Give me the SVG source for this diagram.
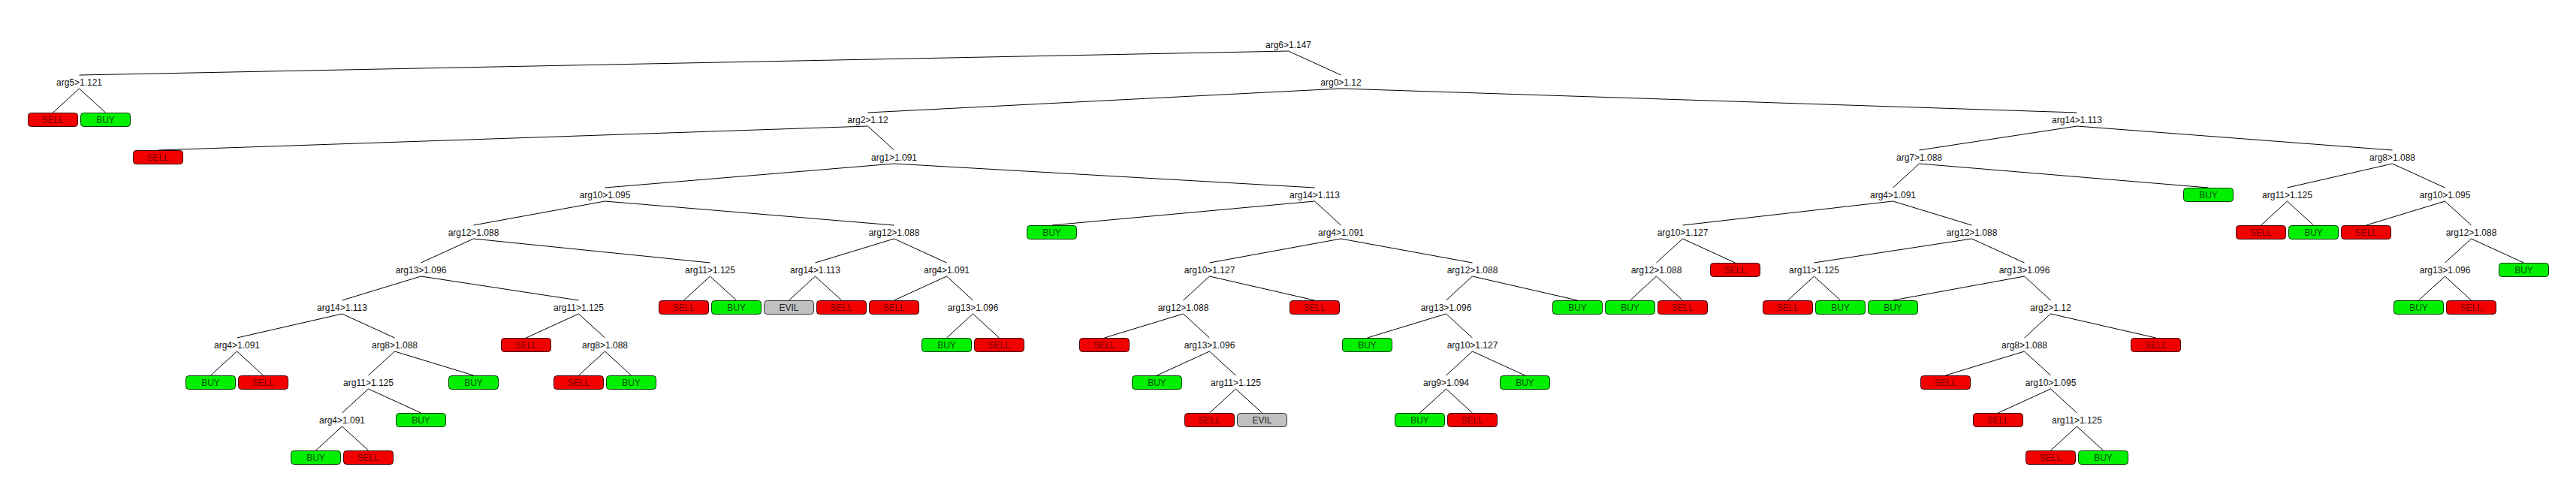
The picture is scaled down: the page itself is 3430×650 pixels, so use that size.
<svg xmlns="http://www.w3.org/2000/svg" width="3430" height="650" viewBox="0 0 3430 650">
<style>
text{font-family:"Liberation Sans",Arial,sans-serif;font-size:12px;text-anchor:middle}
.lab{fill:#111}
.c line{stroke:#000;stroke-width:1;fill:none}
.sell rect{fill:#f20000;stroke:#3a0000;stroke-width:1}
.buy rect{fill:#00f000;stroke:#003a00;stroke-width:1}
.evil rect{fill:#c0c0c0;stroke:#333;stroke-width:1}
.sell text{fill:#7a0000}
.buy text{fill:#005000}
.evil text{fill:#222}
</style>
<rect x="0" y="0" width="3430" height="650" fill="#fff"/>
<g id="connectors" class="c">
<line x1="1715.5" y1="68" x2="105.5" y2="100"/><line x1="1715.5" y1="68" x2="1785.5" y2="100"/>
<line x1="105.5" y1="118" x2="70.5" y2="150"/><line x1="105.5" y1="118" x2="140.5" y2="150"/><line x1="1785.5" y1="118" x2="1155.5" y2="150"/><line x1="1785.5" y1="118" x2="2765.5" y2="150"/>
<line x1="1155.5" y1="168" x2="210.5" y2="200"/><line x1="1155.5" y1="168" x2="1190.5" y2="200"/><line x1="2765.5" y1="168" x2="2555.5" y2="200"/><line x1="2765.5" y1="168" x2="3185.5" y2="200"/>
<line x1="1190.5" y1="218" x2="805.5" y2="250"/><line x1="1190.5" y1="218" x2="1750.5" y2="250"/><line x1="2555.5" y1="218" x2="2520.5" y2="250"/><line x1="2555.5" y1="218" x2="2940.5" y2="250"/><line x1="3185.5" y1="218" x2="3045.5" y2="250"/><line x1="3185.5" y1="218" x2="3255.5" y2="250"/>
<line x1="805.5" y1="268" x2="630.5" y2="300"/><line x1="805.5" y1="268" x2="1190.5" y2="300"/><line x1="1750.5" y1="268" x2="1400.5" y2="300"/><line x1="1750.5" y1="268" x2="1785.5" y2="300"/><line x1="2520.5" y1="268" x2="2240.5" y2="300"/><line x1="2520.5" y1="268" x2="2625.5" y2="300"/><line x1="3045.5" y1="268" x2="3010.5" y2="300"/><line x1="3045.5" y1="268" x2="3080.5" y2="300"/><line x1="3255.5" y1="268" x2="3150.5" y2="300"/><line x1="3255.5" y1="268" x2="3290.5" y2="300"/>
<line x1="630.5" y1="318" x2="560.5" y2="350"/><line x1="630.5" y1="318" x2="945.5" y2="350"/><line x1="1190.5" y1="318" x2="1085.5" y2="350"/><line x1="1190.5" y1="318" x2="1260.5" y2="350"/><line x1="1785.5" y1="318" x2="1610.5" y2="350"/><line x1="1785.5" y1="318" x2="1960.5" y2="350"/><line x1="2240.5" y1="318" x2="2205.5" y2="350"/><line x1="2240.5" y1="318" x2="2310.5" y2="350"/><line x1="2625.5" y1="318" x2="2415.5" y2="350"/><line x1="2625.5" y1="318" x2="2695.5" y2="350"/><line x1="3290.5" y1="318" x2="3255.5" y2="350"/><line x1="3290.5" y1="318" x2="3360.5" y2="350"/>
<line x1="560.5" y1="368" x2="455.5" y2="400"/><line x1="560.5" y1="368" x2="770.5" y2="400"/><line x1="945.5" y1="368" x2="910.5" y2="400"/><line x1="945.5" y1="368" x2="980.5" y2="400"/><line x1="1085.5" y1="368" x2="1050.5" y2="400"/><line x1="1085.5" y1="368" x2="1120.5" y2="400"/><line x1="1260.5" y1="368" x2="1190.5" y2="400"/><line x1="1260.5" y1="368" x2="1295.5" y2="400"/><line x1="1610.5" y1="368" x2="1575.5" y2="400"/><line x1="1610.5" y1="368" x2="1750.5" y2="400"/><line x1="1960.5" y1="368" x2="1925.5" y2="400"/><line x1="1960.5" y1="368" x2="2100.5" y2="400"/><line x1="2205.5" y1="368" x2="2170.5" y2="400"/><line x1="2205.5" y1="368" x2="2240.5" y2="400"/><line x1="2415.5" y1="368" x2="2380.5" y2="400"/><line x1="2415.5" y1="368" x2="2450.5" y2="400"/><line x1="2695.5" y1="368" x2="2520.5" y2="400"/><line x1="2695.5" y1="368" x2="2730.5" y2="400"/><line x1="3255.5" y1="368" x2="3220.5" y2="400"/><line x1="3255.5" y1="368" x2="3290.5" y2="400"/>
<line x1="455.5" y1="418" x2="315.5" y2="450"/><line x1="455.5" y1="418" x2="525.5" y2="450"/><line x1="770.5" y1="418" x2="700.5" y2="450"/><line x1="770.5" y1="418" x2="805.5" y2="450"/><line x1="1295.5" y1="418" x2="1260.5" y2="450"/><line x1="1295.5" y1="418" x2="1330.5" y2="450"/><line x1="1575.5" y1="418" x2="1470.5" y2="450"/><line x1="1575.5" y1="418" x2="1610.5" y2="450"/><line x1="1925.5" y1="418" x2="1820.5" y2="450"/><line x1="1925.5" y1="418" x2="1960.5" y2="450"/><line x1="2730.5" y1="418" x2="2695.5" y2="450"/><line x1="2730.5" y1="418" x2="2870.5" y2="450"/>
<line x1="315.5" y1="468" x2="280.5" y2="500"/><line x1="315.5" y1="468" x2="350.5" y2="500"/><line x1="525.5" y1="468" x2="490.5" y2="500"/><line x1="525.5" y1="468" x2="630.5" y2="500"/><line x1="805.5" y1="468" x2="770.5" y2="500"/><line x1="805.5" y1="468" x2="840.5" y2="500"/><line x1="1610.5" y1="468" x2="1540.5" y2="500"/><line x1="1610.5" y1="468" x2="1645.5" y2="500"/><line x1="1960.5" y1="468" x2="1925.5" y2="500"/><line x1="1960.5" y1="468" x2="2030.5" y2="500"/><line x1="2695.5" y1="468" x2="2590.5" y2="500"/><line x1="2695.5" y1="468" x2="2730.5" y2="500"/>
<line x1="490.5" y1="518" x2="455.5" y2="550"/><line x1="490.5" y1="518" x2="560.5" y2="550"/><line x1="1645.5" y1="518" x2="1610.5" y2="550"/><line x1="1645.5" y1="518" x2="1680.5" y2="550"/><line x1="1925.5" y1="518" x2="1890.5" y2="550"/><line x1="1925.5" y1="518" x2="1960.5" y2="550"/><line x1="2730.5" y1="518" x2="2660.5" y2="550"/><line x1="2730.5" y1="518" x2="2765.5" y2="550"/>
<line x1="455.5" y1="568" x2="420.5" y2="600"/><line x1="455.5" y1="568" x2="490.5" y2="600"/><line x1="2765.5" y1="568" x2="2730.5" y2="600"/><line x1="2765.5" y1="568" x2="2800.5" y2="600"/>
</g>
<g id="n0"><text class="lab" x="1715.5" y="64">arg6&gt;1.147</text></g>
<g id="n1"><text class="lab" x="105.5" y="114">arg5&gt;1.121</text></g>
<g id="n2"><text class="lab" x="1785.5" y="114">arg0&gt;1.12</text></g>
<g id="n3"><text class="lab" x="1155.5" y="164">arg2&gt;1.12</text></g>
<g id="n4"><text class="lab" x="1190.5" y="214">arg1&gt;1.091</text></g>
<g id="n5"><text class="lab" x="805.5" y="264">arg10&gt;1.095</text></g>
<g id="n6"><text class="lab" x="630.5" y="314">arg12&gt;1.088</text></g>
<g id="n7"><text class="lab" x="560.5" y="364">arg13&gt;1.096</text></g>
<g id="n8"><text class="lab" x="455.5" y="414">arg14&gt;1.113</text></g>
<g id="n9"><text class="lab" x="315.5" y="464">arg4&gt;1.091</text></g>
<g id="n10"><text class="lab" x="525.5" y="464">arg8&gt;1.088</text></g>
<g id="n11"><text class="lab" x="490.5" y="514">arg11&gt;1.125</text></g>
<g id="n12"><text class="lab" x="455.5" y="564">arg4&gt;1.091</text></g>
<g id="n13"><text class="lab" x="770.5" y="414">arg11&gt;1.125</text></g>
<g id="n14"><text class="lab" x="805.5" y="464">arg8&gt;1.088</text></g>
<g id="n15"><text class="lab" x="945.5" y="364">arg11&gt;1.125</text></g>
<g id="n16"><text class="lab" x="1190.5" y="314">arg12&gt;1.088</text></g>
<g id="n17"><text class="lab" x="1085.5" y="364">arg14&gt;1.113</text></g>
<g id="n18"><text class="lab" x="1260.5" y="364">arg4&gt;1.091</text></g>
<g id="n19"><text class="lab" x="1295.5" y="414">arg13&gt;1.096</text></g>
<g id="n20"><text class="lab" x="1750.5" y="264">arg14&gt;1.113</text></g>
<g id="n21"><text class="lab" x="1785.5" y="314">arg4&gt;1.091</text></g>
<g id="n22"><text class="lab" x="1610.5" y="364">arg10&gt;1.127</text></g>
<g id="n23"><text class="lab" x="1575.5" y="414">arg12&gt;1.088</text></g>
<g id="n24"><text class="lab" x="1610.5" y="464">arg13&gt;1.096</text></g>
<g id="n25"><text class="lab" x="1645.5" y="514">arg11&gt;1.125</text></g>
<g id="n26"><text class="lab" x="1960.5" y="364">arg12&gt;1.088</text></g>
<g id="n27"><text class="lab" x="1925.5" y="414">arg13&gt;1.096</text></g>
<g id="n28"><text class="lab" x="1960.5" y="464">arg10&gt;1.127</text></g>
<g id="n29"><text class="lab" x="1925.5" y="514">arg9&gt;1.094</text></g>
<g id="n30"><text class="lab" x="2765.5" y="164">arg14&gt;1.113</text></g>
<g id="n31"><text class="lab" x="2555.5" y="214">arg7&gt;1.088</text></g>
<g id="n32"><text class="lab" x="2520.5" y="264">arg4&gt;1.091</text></g>
<g id="n33"><text class="lab" x="2240.5" y="314">arg10&gt;1.127</text></g>
<g id="n34"><text class="lab" x="2205.5" y="364">arg12&gt;1.088</text></g>
<g id="n35"><text class="lab" x="2625.5" y="314">arg12&gt;1.088</text></g>
<g id="n36"><text class="lab" x="2415.5" y="364">arg11&gt;1.125</text></g>
<g id="n37"><text class="lab" x="2695.5" y="364">arg13&gt;1.096</text></g>
<g id="n38"><text class="lab" x="2730.5" y="414">arg2&gt;1.12</text></g>
<g id="n39"><text class="lab" x="2695.5" y="464">arg8&gt;1.088</text></g>
<g id="n40"><text class="lab" x="2730.5" y="514">arg10&gt;1.095</text></g>
<g id="n41"><text class="lab" x="2765.5" y="564">arg11&gt;1.125</text></g>
<g id="n42"><text class="lab" x="3185.5" y="214">arg8&gt;1.088</text></g>
<g id="n43"><text class="lab" x="3045.5" y="264">arg11&gt;1.125</text></g>
<g id="n44"><text class="lab" x="3255.5" y="264">arg10&gt;1.095</text></g>
<g id="n45"><text class="lab" x="3290.5" y="314">arg12&gt;1.088</text></g>
<g id="n46"><text class="lab" x="3255.5" y="364">arg13&gt;1.096</text></g>
<g id="l1" class="sell"><rect x="37.5" y="150.5" width="66" height="18" rx="4"/><text x="70.5" y="164">SELL</text></g>
<g id="l2" class="buy"><rect x="107.5" y="150.5" width="66" height="18" rx="4"/><text x="140.5" y="164">BUY</text></g>
<g id="l3" class="sell"><rect x="177.5" y="200.5" width="66" height="18" rx="4"/><text x="210.5" y="214">SELL</text></g>
<g id="l4" class="buy"><rect x="247.5" y="500.5" width="66" height="18" rx="4"/><text x="280.5" y="514">BUY</text></g>
<g id="l5" class="sell"><rect x="317.5" y="500.5" width="66" height="18" rx="4"/><text x="350.5" y="514">SELL</text></g>
<g id="l6" class="buy"><rect x="387.5" y="600.5" width="66" height="18" rx="4"/><text x="420.5" y="614">BUY</text></g>
<g id="l7" class="sell"><rect x="457.5" y="600.5" width="66" height="18" rx="4"/><text x="490.5" y="614">SELL</text></g>
<g id="l8" class="buy"><rect x="527.5" y="550.5" width="66" height="18" rx="4"/><text x="560.5" y="564">BUY</text></g>
<g id="l9" class="buy"><rect x="597.5" y="500.5" width="66" height="18" rx="4"/><text x="630.5" y="514">BUY</text></g>
<g id="l10" class="sell"><rect x="667.5" y="450.5" width="66" height="18" rx="4"/><text x="700.5" y="464">SELL</text></g>
<g id="l11" class="sell"><rect x="737.5" y="500.5" width="66" height="18" rx="4"/><text x="770.5" y="514">SELL</text></g>
<g id="l12" class="buy"><rect x="807.5" y="500.5" width="66" height="18" rx="4"/><text x="840.5" y="514">BUY</text></g>
<g id="l13" class="sell"><rect x="877.5" y="400.5" width="66" height="18" rx="4"/><text x="910.5" y="414">SELL</text></g>
<g id="l14" class="buy"><rect x="947.5" y="400.5" width="66" height="18" rx="4"/><text x="980.5" y="414">BUY</text></g>
<g id="l15" class="evil"><rect x="1017.5" y="400.5" width="66" height="18" rx="4"/><text x="1050.5" y="414">EVIL</text></g>
<g id="l16" class="sell"><rect x="1087.5" y="400.5" width="66" height="18" rx="4"/><text x="1120.5" y="414">SELL</text></g>
<g id="l17" class="sell"><rect x="1157.5" y="400.5" width="66" height="18" rx="4"/><text x="1190.5" y="414">SELL</text></g>
<g id="l18" class="buy"><rect x="1227.5" y="450.5" width="66" height="18" rx="4"/><text x="1260.5" y="464">BUY</text></g>
<g id="l19" class="sell"><rect x="1297.5" y="450.5" width="66" height="18" rx="4"/><text x="1330.5" y="464">SELL</text></g>
<g id="l20" class="buy"><rect x="1367.5" y="300.5" width="66" height="18" rx="4"/><text x="1400.5" y="314">BUY</text></g>
<g id="l21" class="sell"><rect x="1437.5" y="450.5" width="66" height="18" rx="4"/><text x="1470.5" y="464">SELL</text></g>
<g id="l22" class="buy"><rect x="1507.5" y="500.5" width="66" height="18" rx="4"/><text x="1540.5" y="514">BUY</text></g>
<g id="l23" class="sell"><rect x="1577.5" y="550.5" width="66" height="18" rx="4"/><text x="1610.5" y="564">SELL</text></g>
<g id="l24" class="evil"><rect x="1647.5" y="550.5" width="66" height="18" rx="4"/><text x="1680.5" y="564">EVIL</text></g>
<g id="l25" class="sell"><rect x="1717.5" y="400.5" width="66" height="18" rx="4"/><text x="1750.5" y="414">SELL</text></g>
<g id="l26" class="buy"><rect x="1787.5" y="450.5" width="66" height="18" rx="4"/><text x="1820.5" y="464">BUY</text></g>
<g id="l27" class="buy"><rect x="1857.5" y="550.5" width="66" height="18" rx="4"/><text x="1890.5" y="564">BUY</text></g>
<g id="l28" class="sell"><rect x="1927.5" y="550.5" width="66" height="18" rx="4"/><text x="1960.5" y="564">SELL</text></g>
<g id="l29" class="buy"><rect x="1997.5" y="500.5" width="66" height="18" rx="4"/><text x="2030.5" y="514">BUY</text></g>
<g id="l30" class="buy"><rect x="2067.5" y="400.5" width="66" height="18" rx="4"/><text x="2100.5" y="414">BUY</text></g>
<g id="l31" class="buy"><rect x="2137.5" y="400.5" width="66" height="18" rx="4"/><text x="2170.5" y="414">BUY</text></g>
<g id="l32" class="sell"><rect x="2207.5" y="400.5" width="66" height="18" rx="4"/><text x="2240.5" y="414">SELL</text></g>
<g id="l33" class="sell"><rect x="2277.5" y="350.5" width="66" height="18" rx="4"/><text x="2310.5" y="364">SELL</text></g>
<g id="l34" class="sell"><rect x="2347.5" y="400.5" width="66" height="18" rx="4"/><text x="2380.5" y="414">SELL</text></g>
<g id="l35" class="buy"><rect x="2417.5" y="400.5" width="66" height="18" rx="4"/><text x="2450.5" y="414">BUY</text></g>
<g id="l36" class="buy"><rect x="2487.5" y="400.5" width="66" height="18" rx="4"/><text x="2520.5" y="414">BUY</text></g>
<g id="l37" class="sell"><rect x="2557.5" y="500.5" width="66" height="18" rx="4"/><text x="2590.5" y="514">SELL</text></g>
<g id="l38" class="sell"><rect x="2627.5" y="550.5" width="66" height="18" rx="4"/><text x="2660.5" y="564">SELL</text></g>
<g id="l39" class="sell"><rect x="2697.5" y="600.5" width="66" height="18" rx="4"/><text x="2730.5" y="614">SELL</text></g>
<g id="l40" class="buy"><rect x="2767.5" y="600.5" width="66" height="18" rx="4"/><text x="2800.5" y="614">BUY</text></g>
<g id="l41" class="sell"><rect x="2837.5" y="450.5" width="66" height="18" rx="4"/><text x="2870.5" y="464">SELL</text></g>
<g id="l42" class="buy"><rect x="2907.5" y="250.5" width="66" height="18" rx="4"/><text x="2940.5" y="264">BUY</text></g>
<g id="l43" class="sell"><rect x="2977.5" y="300.5" width="66" height="18" rx="4"/><text x="3010.5" y="314">SELL</text></g>
<g id="l44" class="buy"><rect x="3047.5" y="300.5" width="66" height="18" rx="4"/><text x="3080.5" y="314">BUY</text></g>
<g id="l45" class="sell"><rect x="3117.5" y="300.5" width="66" height="18" rx="4"/><text x="3150.5" y="314">SELL</text></g>
<g id="l46" class="buy"><rect x="3187.5" y="400.5" width="66" height="18" rx="4"/><text x="3220.5" y="414">BUY</text></g>
<g id="l47" class="sell"><rect x="3257.5" y="400.5" width="66" height="18" rx="4"/><text x="3290.5" y="414">SELL</text></g>
<g id="l48" class="buy"><rect x="3327.5" y="350.5" width="66" height="18" rx="4"/><text x="3360.5" y="364">BUY</text></g>
</svg>
